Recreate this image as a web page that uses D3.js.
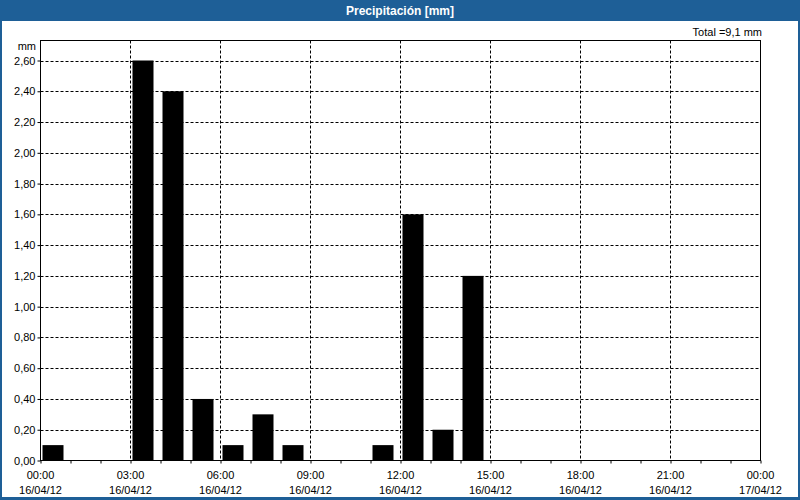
<!DOCTYPE html>
<html><head><meta charset="utf-8">
<script src="https://cdn.jsdelivr.net/npm/d3@7"></script>
<style>
html,body{margin:0;padding:0;background:#fff;}
svg{display:block;}
text{font-family:"Liberation Sans",Arial,sans-serif;font-size:11px;fill:#000;}
</style></head>
<body>
<script>
const title = "Precipitación [mm]";
const totalLabel = "Total =9,1 mm";
const unitLabel = "mm";
const hours = [0,1,2,3,4,5,6,7,8,9,10,11,12,13,14,15,16,17,18,19,20,21,22,23];
const values = [0.1,0,0,2.6,2.4,0.4,0.1,0.3,0.1,0,0,0.1,1.6,0.2,1.2,0,0,0,0,0,0,0,0,0];
const yTicks = [0,0.2,0.4,0.6,0.8,1.0,1.2,1.4,1.6,1.8,2.0,2.2,2.4,2.6];
const xTickHours = [0,3,6,9,12,15,18,21,24];

const W=800,H=500;
const svg=d3.select("body").append("svg").attr("width",W).attr("height",H);
svg.append("rect").attr("x",0).attr("y",0).attr("width",W).attr("height",H).attr("fill","#fff");
// window border
svg.append("rect").attr("x",1).attr("y",1).attr("width",W-2).attr("height",H-2)
  .attr("fill","none").attr("stroke","#1e5f97").attr("stroke-width",2);
svg.append("rect").attr("x",0).attr("y",497).attr("width",W).attr("height",3).attr("fill","#1e5f97");
// title bar
svg.append("rect").attr("x",0).attr("y",0).attr("width",W).attr("height",21).attr("fill","#1e5f97");
svg.append("text").attr("x",W/2).attr("y",15).attr("text-anchor","middle")
  .style("fill","#fff").style("font-weight","bold").style("font-size","12px").text(title);

const t0=new Date(2012,3,16,0,0);
const t1=new Date(2012,3,17,0,0);
const hourDate=h=>new Date(2012,3,16,h,0);
const x=d3.scaleTime().domain([t0,t1]).range([40.5,760.5]);
const y=d3.scaleLinear().domain([0,2.6]).range([460.5,60.5]);
const plotTop=40.5;

// grid lines
const g=svg.append("g");
g.selectAll(".hg").data(yTicks.filter(v=>v>0)).enter().append("line")
  .attr("x1",40.5).attr("x2",760.5).attr("y1",d=>Math.round(y(d))+0.5).attr("y2",d=>Math.round(y(d))+0.5)
  .attr("stroke","#000").attr("stroke-dasharray","3,2");
g.selectAll(".vg").data(xTickHours.filter(h=>h>0&&h<24)).enter().append("line")
  .attr("x1",d=>x(hourDate(d))).attr("x2",d=>x(hourDate(d))).attr("y1",plotTop).attr("y2",460.5)
  .attr("stroke","#000").attr("stroke-dasharray","3,2");

// bars
svg.selectAll(".bar").data(hours.map((h,i)=>({h,v:values[i]})).filter(d=>d.v>0)).enter().append("rect")
  .attr("x",d=>x(hourDate(d.h))+2).attr("width",21)
  .attr("y",d=>y(d.v)).attr("height",d=>y(0)-y(d.v)).attr("fill","#000");

// frame
svg.append("rect").attr("x",40.5).attr("y",plotTop).attr("width",720).attr("height",460.5-plotTop)
  .attr("fill","none").attr("stroke","#000");

// x axis
const xAxis=d3.axisBottom(x).tickValues(d3.range(0,25).map(hourDate)).tickSize(3).tickFormat("");
const xa=svg.append("g").attr("transform","translate(0,460.5)").call(xAxis);
xa.select(".domain").remove();
xa.selectAll("line").attr("stroke","#000");
const lbl=svg.append("g");
xTickHours.forEach(h=>{
  const d=hourDate(h);
  lbl.append("text").attr("x",x(d)).attr("y",479).attr("text-anchor","middle").text(d3.timeFormat("%H:%M")(d));
  lbl.append("text").attr("x",x(d)).attr("y",494).attr("text-anchor","middle").text(d3.timeFormat("%d/%m/%y")(d));
});

// y axis
const yAxis=d3.axisLeft(y).tickValues(yTicks).tickSize(3).tickPadding(2)
  .tickFormat(v=>d3.format(".2f")(v).replace(".",","));
const ya=svg.append("g").attr("transform","translate(40.5,0)").call(yAxis);
ya.select(".domain").remove();
ya.selectAll("line").attr("stroke","#000");
ya.selectAll("text").style("font-size","11px").style("font-family","'Liberation Sans',Arial,sans-serif").attr("fill","#000");

svg.append("text").attr("x",36).attr("y",50).attr("text-anchor","end").text(unitLabel);
svg.append("text").attr("x",762).attr("y",36).attr("text-anchor","end").text(totalLabel);
</script>
</body></html>
